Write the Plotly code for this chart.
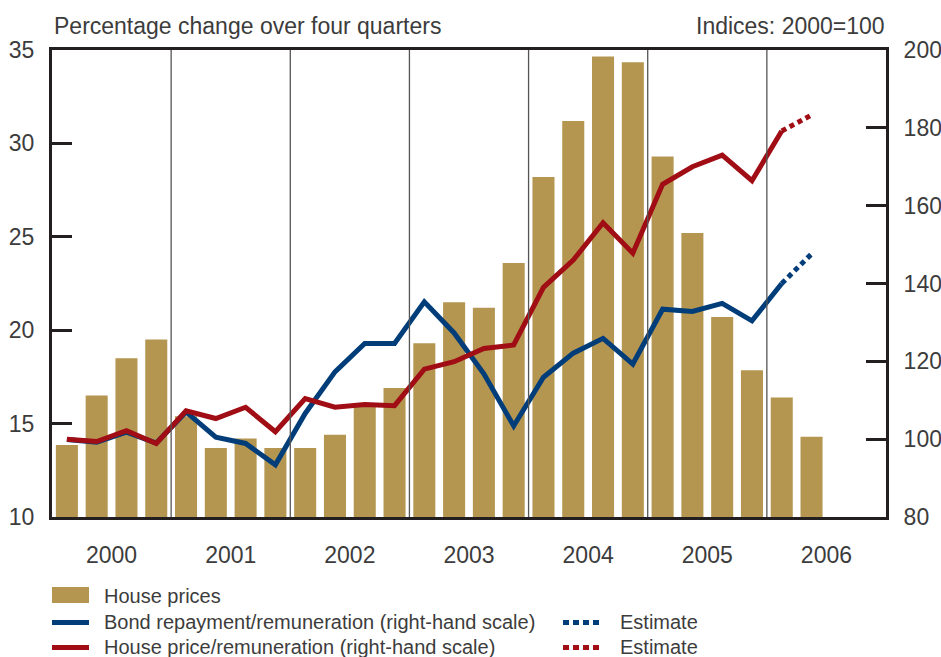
import plotly.graph_objects as go

# ---------------- data ----------------
quarters = list(range(28))  # 2000Q1 .. 2006Q4 (index)
years = ["2000", "2001", "2002", "2003", "2004", "2005", "2006"]

house_prices = [13.85, 16.5, 18.5, 19.5,
                15.4, 13.7, 14.2, 13.7,
                13.7, 14.4, 15.9, 16.9,
                19.3, 21.5, 21.2, 23.6,
                28.2, 31.2, 34.65, 34.35,
                29.3, 25.2, 20.7, 17.85,
                16.4, 14.3]

bond_ratio = [99.9, 99.2, 101.8, 99.0,
              107.0, 100.5, 98.9, 93.4,
              106.6, 117.3, 124.6, 124.6,
              135.3, 127.3, 116.8, 103.4,
              115.9, 122.1, 125.9, 119.3,
              133.4, 132.8, 134.9, 130.4,
              140.0]
bond_estimate = [140.0, 147.6]

price_ratio = [100.0, 99.4, 102.2, 98.9,
               107.3, 105.3, 108.2, 101.9,
               110.4, 108.2, 108.9, 108.6,
               118.0, 119.9, 123.3, 124.2,
               139.0, 146.0, 155.6, 147.8,
               165.5, 170.0, 173.0, 166.4,
               179.2]
price_estimate = [179.2, 183.3]

left_ticks = [10, 15, 20, 25, 30, 35]
right_ticks = [80, 100, 120, 140, 160, 180, 200]

# ---------------- styles ----------------
GOLD = "#b59650"
BLUE = "#003d79"
RED = "#a00d14"
AXIS = "#231f20"
TXT = "#3c3c3c"
FONT = "Liberation Sans"

fig = go.Figure()

fig.add_trace(go.Bar(x=quarters[:len(house_prices)], y=house_prices,
                     marker=dict(color=GOLD, line=dict(width=0)),
                     name="House prices", showlegend=False))

fig.add_trace(go.Scatter(x=quarters[:len(bond_ratio)], y=bond_ratio, yaxis="y2",
                         mode="lines", line=dict(color=BLUE, width=5),
                         showlegend=False))
fig.add_trace(go.Scatter(x=quarters[len(bond_ratio) - 1:len(bond_ratio) + 1], y=bond_estimate,
                         yaxis="y2", mode="lines",
                         line=dict(color=BLUE, width=5, dash="5px,4px"),
                         showlegend=False))
fig.add_trace(go.Scatter(x=quarters[:len(price_ratio)], y=price_ratio, yaxis="y2",
                         mode="lines", line=dict(color=RED, width=5),
                         showlegend=False))
fig.add_trace(go.Scatter(x=quarters[len(price_ratio) - 1:len(price_ratio) + 1], y=price_estimate,
                         yaxis="y2", mode="lines",
                         line=dict(color=RED, width=5, dash="5px,4px"),
                         showlegend=False))

# plot area in pixels
L, R, T, B = 52, 886, 50, 517
W, H = 941, 657


def px(xp):
    return (xp - L) / (R - L)


def py(yp):
    return (B - yp) / (B - T)


shapes = []
# year separators
for k in range(1, len(years)):
    xv = 4 * k - 0.5
    shapes.append(dict(type="line", xref="x", yref="paper", x0=xv, x1=xv, y0=0, y1=1,
                       line=dict(color="#555555", width=1.3), layer="above"))

# manual legend
shapes.append(dict(type="rect", xref="paper", yref="paper",
                   x0=px(52), x1=px(89), y0=py(587), y1=py(603),
                   fillcolor=GOLD, line=dict(width=0)))
shapes.append(dict(type="line", xref="paper", yref="paper",
                   x0=px(52), x1=px(89), y0=py(622.5), y1=py(622.5),
                   line=dict(color=BLUE, width=5)))
shapes.append(dict(type="line", xref="paper", yref="paper",
                   x0=px(52), x1=px(89), y0=py(647.5), y1=py(647.5),
                   line=dict(color=RED, width=5)))
shapes.append(dict(type="line", xref="paper", yref="paper",
                   x0=px(563), x1=px(600), y0=py(622.5), y1=py(622.5),
                   line=dict(color=BLUE, width=5, dash="6px,4px")))
shapes.append(dict(type="line", xref="paper", yref="paper",
                   x0=px(563), x1=px(600), y0=py(647.5), y1=py(647.5),
                   line=dict(color=RED, width=5, dash="6px,4px")))

annotations = [
    dict(text="Percentage change over four quarters", xref="paper", yref="paper",
         x=px(52), y=py(26), xanchor="left", yanchor="middle", showarrow=False,
         font=dict(size=23, color=TXT, family=FONT)),
    dict(text="Indices: 2000=100", xref="paper", yref="paper",
         x=px(887), y=py(26), xanchor="right", yanchor="middle", showarrow=False,
         font=dict(size=23, color=TXT, family=FONT)),
    dict(text="House prices", xref="paper", yref="paper",
         x=px(102), y=py(596), xanchor="left", yanchor="middle", showarrow=False,
         font=dict(size=20, color=TXT, family=FONT)),
    dict(text="Bond repayment/remuneration (right-hand scale)", xref="paper", yref="paper",
         x=px(102), y=py(622), xanchor="left", yanchor="middle", showarrow=False,
         font=dict(size=20, color=TXT, family=FONT)),
    dict(text="House price/remuneration (right-hand scale)", xref="paper", yref="paper",
         x=px(102), y=py(647), xanchor="left", yanchor="middle", showarrow=False,
         font=dict(size=20, color=TXT, family=FONT)),
    dict(text="Estimate", xref="paper", yref="paper",
         x=px(618), y=py(622), xanchor="left", yanchor="middle", showarrow=False,
         font=dict(size=20, color=TXT, family=FONT)),
    dict(text="Estimate", xref="paper", yref="paper",
         x=px(618), y=py(647), xanchor="left", yanchor="middle", showarrow=False,
         font=dict(size=20, color=TXT, family=FONT)),
]

fig.update_layout(
    width=W, height=H,
    margin=dict(l=L, r=W - R, t=T, b=H - B, autoexpand=False),
    paper_bgcolor="white", plot_bgcolor="white",
    bargap=0.26,
    font=dict(family=FONT, color=TXT, size=23),
    showlegend=False,
    shapes=shapes,
    annotations=annotations,
    xaxis=dict(range=[-0.5, 27.5], tickvals=[4 * i + 1.5 for i in range(len(years))],
               ticktext=years, ticks="", showgrid=False, zeroline=False,
               showline=True, mirror=True, linecolor=AXIS, linewidth=3,
               ticklabelstandoff=15, tickfont=dict(size=23, color=TXT)),
    yaxis=dict(range=[10, 35], tickvals=left_ticks, ticks="inside", ticklen=20,
               tickwidth=3, tickcolor=AXIS, showgrid=False, zeroline=False,
               showline=True, linecolor=AXIS, linewidth=3,
               ticklabelstandoff=10, tickfont=dict(size=23, color=TXT)),
    yaxis2=dict(range=[80, 200], tickvals=right_ticks, overlaying="y", side="right",
                ticks="inside", ticklen=20, tickwidth=3, tickcolor=AXIS,
                showgrid=False, zeroline=False, showline=True, linecolor=AXIS,
                linewidth=3, ticklabelstandoff=10, tickfont=dict(size=23, color=TXT)),
)

fig.write_html("out.html", config={"displayModeBar": False},
               post_script="document.body.style.margin='0px';document.body.style.padding='0px';")
